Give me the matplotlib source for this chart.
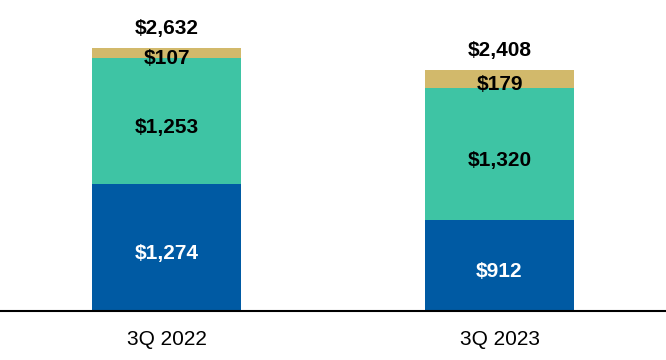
import matplotlib
matplotlib.use('Agg')
import matplotlib.pyplot as plt
import numpy as np

plt.rcParams['font.family'] = ['Liberation Sans', 'DejaVu Sans']

periods = ['3Q 2022', '3Q 2023']
bottom_vals = [1274, 912]
middle_vals = [1253, 1320]
top_vals = [107, 179]
totals = [2632, 2408]

BLUE = '#005AA3'
TEAL = '#3EC4A4'
GOLD = '#D2B96B'

fig = plt.figure(figsize=(6.66, 3.6), dpi=100)
ax = fig.add_axes([0, 1 - 311 / 360, 1, 311 / 360])

x = np.arange(len(periods))
w = 0.45
ax.bar(x, bottom_vals, w, color=BLUE)
ax.bar(x, middle_vals, w, bottom=bottom_vals, color=TEAL)
base3 = np.array(bottom_vals) + np.array(middle_vals)
ax.bar(x, top_vals, w, bottom=base3, color=GOLD)

ax.set_xlim(-0.5, 1.5)
ax.set_ylim(0, 3110)

def money(v):
    return f'${v:,}'

FS = 15
for i in range(len(periods)):
    # segment labels, nudged down a bit like the original
    ax.annotate(money(bottom_vals[i]), (x[i], bottom_vals[i] / 2), xytext=(0, -4.5),
                textcoords='offset points', ha='center', va='center',
                color='white', fontsize=FS, fontweight='bold')
    ax.annotate(money(middle_vals[i]), (x[i], bottom_vals[i] + middle_vals[i] / 2),
                xytext=(0, -4.5), textcoords='offset points', ha='center',
                va='center', color='black', fontsize=FS, fontweight='bold')
    ax.annotate(money(top_vals[i]), (x[i], base3[i] + top_vals[i] / 2), xytext=(0, -4),
                textcoords='offset points', ha='center', va='center', color='black',
                fontsize=FS, fontweight='bold')
    ax.annotate(money(totals[i]), (x[i], base3[i] + top_vals[i]), xytext=(0, 14),
                textcoords='offset points', ha='center', va='center', color='black',
                fontsize=FS, fontweight='bold')

for s in ['top', 'right', 'left']:
    ax.spines[s].set_visible(False)
ax.spines['bottom'].set_linewidth(1.5)
ax.spines['bottom'].set_color('black')
ax.set_yticks([])
ax.set_xticks(x)
ax.set_xticklabels(periods, fontsize=15)
ax.tick_params(axis='x', length=0, pad=14)

fig.savefig('out.png', dpi=100)
